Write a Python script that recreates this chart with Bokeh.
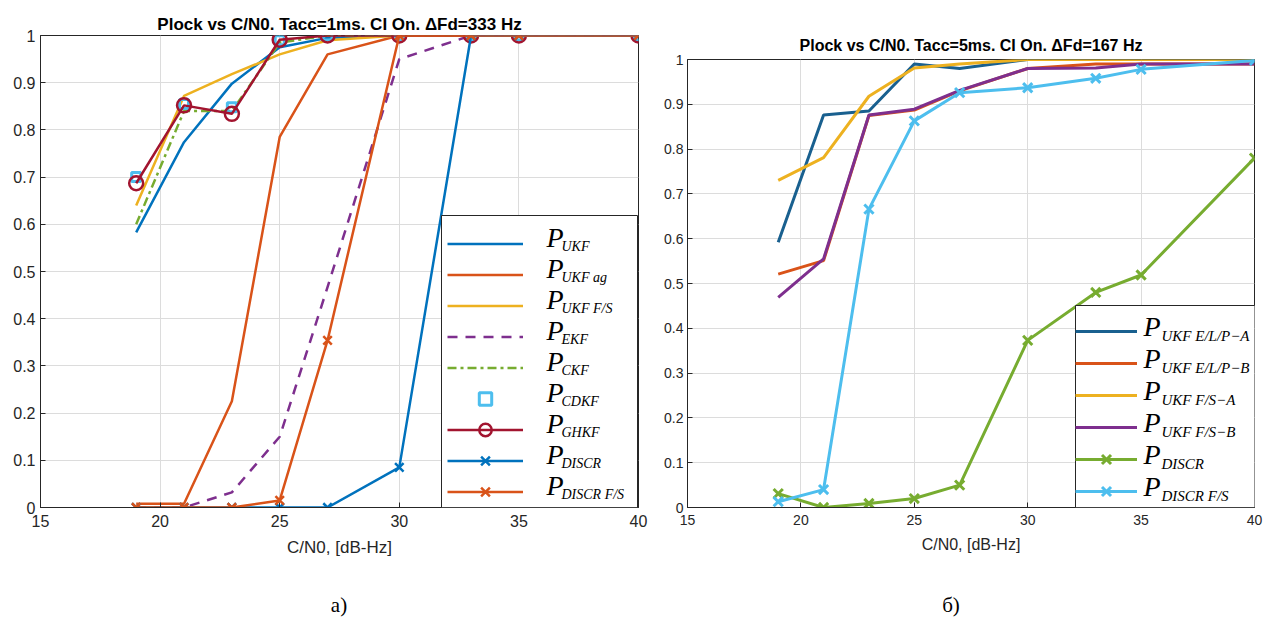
from bokeh.plotting import figure
from bokeh.layouts import row, column
from bokeh.models import Legend, LegendItem, Label, FixedTicker, Range1d, BoxAnnotation, Div
from bokeh.core.properties import value
from bokeh.embed import file_html
from bokeh.resources import INLINE

# ---------------- data ----------------
cn0 = [19, 21, 23, 25, 27, 30, 33, 35, 40]

# panel a) Tacc = 1 ms
a_ukf = [0.583, 0.774, 0.898, 0.975, 0.995, 1.0, 1.0, 1.0, 1.0]
a_ukf_ag = [0.008, 0.008, 0.225, 0.785, 0.960, 1.0, 1.0, 1.0, 1.0]
a_ukf_fs = [0.640, 0.872, 0.918, 0.960, 0.990, 1.0, 1.0, 1.0, 1.0]
a_ekf = [0.0, 0.0, 0.032, 0.150, 0.467, 0.950, 1.0, 1.0, 1.0]
a_ckf = [0.600, 0.840, 0.840, 0.985, 1.0, 1.0, 1.0, 1.0, 1.0]
a_cdkf = [0.700, 0.855, 0.848, 0.990, 1.0, 1.0, 1.0, 1.0, 1.0]
a_ghkf = [0.687, 0.852, 0.834, 0.991, 1.0, 1.0, 1.0, 1.0, 1.0]
a_discr = [0.0, 0.0, 0.0, 0.0, 0.0, 0.085, 1.0, 1.0, 1.0]
a_discr_fs = [0.0, 0.0, 0.0, 0.015, 0.354, 1.0, 1.0, 1.0, 1.0]

# panel б) Tacc = 5 ms
b_elp_a = [0.592, 0.876, 0.885, 0.990, 0.980, 1.0, 1.0, 1.0, 1.0]
b_elp_b = [0.521, 0.551, 0.875, 0.887, 0.930, 0.980, 0.990, 0.990, 0.990]
b_fs_a = [0.730, 0.781, 0.918, 0.981, 0.990, 1.0, 1.0, 1.0, 1.0]
b_fs_b = [0.469, 0.555, 0.876, 0.889, 0.931, 0.980, 0.981, 0.990, 0.990]
b_discr = [0.031, 0.0, 0.009, 0.020, 0.050, 0.373, 0.480, 0.519, 0.780]
b_discr_fs = [0.013, 0.040, 0.666, 0.863, 0.926, 0.937, 0.958, 0.978, 0.998]

x_ticks = [15, 20, 25, 30, 35, 40]
y_ticks = [0, 0.1, 0.2, 0.3, 0.4, 0.5, 0.6, 0.7, 0.8, 0.9, 1]
y_tick_labels = ["0", "0.1", "0.2", "0.3", "0.4", "0.5", "0.6", "0.7", "0.8", "0.9", "1"]

title_a = "Plock vs C/N0. Tacc=1ms. CI On. \u0394Fd=333 Hz"
title_b = "Plock vs C/N0. Tacc=5ms. CI On. \u0394Fd=167 Hz"
x_label = "C/N0, [dB-Hz]"
caption_a = "\u0430)"
caption_b = "\u0431)"
legend_main = "P"
legend_a_subs = ["UKF", "UKF ag", "UKF F/S", "EKF", "CKF", "CDKF", "GHKF", "DISCR", "DISCR F/S"]
legend_b_subs = ["UKF  E/L/P\u2212A", "UKF  E/L/P\u2212B", "UKF  F/S\u2212A", "UKF  F/S\u2212B",
                 "DISCR", "DISCR F/S"]

BLUE = "#0072BD"
DBLUE = "#19608f"
ORANGE = "#D95319"
YELLOW = "#EDB120"
PURPLE = "#7E2F8E"
GREEN = "#77AC30"
LBLUE = "#4DBEEE"
DRED = "#A2142F"
AXC = "#262626"

X0, X1 = 15, 40
Y0, Y1 = 0, 1
PLOT_H = 585
CAP_H = 621 - PLOT_H


def make_fig(width, ml, mr, mt, title, tick_fs, lab_fs, title_fs, xstand, ystand, tstand):
    p = figure(width=width, height=PLOT_H, x_range=Range1d(X0, X1), y_range=Range1d(Y0, Y1),
               output_backend="svg", toolbar_location=None,
               min_border_left=ml, min_border_right=mr, min_border_top=mt,
               min_border_bottom=PLOT_H - 507, title=title)
    if "frame_align" in p.properties():
        p.frame_align = False
    p.title.align = "center"
    p.title.text_font = "Liberation Sans"
    p.title.text_font_style = "bold"
    p.title.text_font_size = title_fs
    p.title.text_color = "black"
    p.title.standoff = tstand
    p.outline_line_color = AXC
    p.outline_line_width = 1
    p.outline_line_alpha = 1
    p.background_fill_color = "white"
    p.border_fill_color = "white"
    p.xaxis.ticker = FixedTicker(ticks=x_ticks)
    p.yaxis.ticker = FixedTicker(ticks=y_ticks)
    p.yaxis.major_label_overrides = {t: l for t, l in zip(y_ticks, y_tick_labels)}
    for ax in (p.xaxis, p.yaxis):
        ax.major_tick_in = 5
        ax.major_tick_out = 0
        ax.minor_tick_line_color = None
        ax.axis_line_color = AXC
        ax.major_tick_line_color = AXC
        ax.major_label_text_font = "Liberation Sans"
        ax.major_label_text_font_size = tick_fs
        ax.major_label_text_color = AXC
    p.xaxis.major_label_standoff = xstand
    p.yaxis.major_label_standoff = ystand
    p.xaxis.axis_label = x_label
    p.xaxis.axis_label_text_font = "Liberation Sans"
    p.xaxis.axis_label_text_font_style = "normal"
    p.xaxis.axis_label_text_font_size = lab_fs
    p.xaxis.axis_label_text_color = AXC
    p.xaxis.axis_label_standoff = 8
    p.xgrid.grid_line_color = "#dcdcdc"
    p.ygrid.grid_line_color = "#dcdcdc"
    p.xgrid.grid_line_width = 1
    p.ygrid.grid_line_width = 1
    return p


class PixMap:
    """Converts pixel offsets inside a frame of known size to data units (for text placement)."""
    def __init__(self, fw, fh):
        self.fw, self.fh = fw, fh

    def x(self, dx):
        return X0 + dx / self.fw * (X1 - X0)

    def y(self, dy_from_bottom):
        return Y0 + dy_from_bottom / self.fh * (Y1 - Y0)


def add_text(p, x, y, text, size, font="Liberation Serif", style="italic", align="left",
             baseline="middle"):
    p.add_layout(Label(x=x, y=y, text=text, text_font=font, text_font_style=style,
                       text_font_size=size, text_baseline=baseline, text_align=align,
                       text_color="black"))


def legend_box(p, m, left, width, height):
    p.add_layout(BoxAnnotation(left=m.x(left), right=m.x(left + width), bottom=Y0,
                               top=m.y(height), fill_color="white", fill_alpha=1,
                               line_color=AXC, line_width=1, line_alpha=1))


def caption(text, width, center_x):
    # text is centred on center_x (px from the left edge of this column)
    html = ('<div style="position: relative; width: %dpx; height: %dpx;">'
            '<span style="position: absolute; left: %dpx; top: 8px; transform: translateX(-50%%); '
            'font-family: \'Liberation Serif\'; font-size: 21px; line-height: 24px; '
            'color: black; white-space: nowrap;">%s</span></div>'
            % (width, CAP_H, center_x, text))
    return Div(text=html, width=width, height=CAP_H, margin=(0, 0, 0, 0))


# ---------------- panel a ----------------
pa = make_fig(660, 40, 22, 35, title_a, "16px", "17px", "17px", 7, 5, 4)
ma = PixMap(598, 472)
lw = 2.5
r1 = pa.line(cn0, a_ukf, line_color=BLUE, line_width=lw)
r2 = pa.line(cn0, a_ukf_ag, line_color=ORANGE, line_width=lw)
r3 = pa.line(cn0, a_ukf_fs, line_color=YELLOW, line_width=lw)
r4 = pa.line(cn0, a_ekf, line_color=PURPLE, line_width=lw, line_dash="10 8")
r5 = pa.line(cn0, a_ckf, line_color=GREEN, line_width=lw, line_dash="9 4 3 4")
r6 = pa.scatter(cn0, a_cdkf, marker="square", size=9, line_color=LBLUE, line_width=3,
                fill_color=None)
r7l = pa.line(cn0, a_ghkf, line_color=DRED, line_width=lw)
r7m = pa.scatter(cn0, a_ghkf, marker="circle", size=14, line_color=DRED, line_width=2.5,
                 fill_color=None)
r8l = pa.line(cn0, a_discr, line_color=BLUE, line_width=lw)
r8m = pa.scatter(cn0, a_discr, marker="x", size=12, line_color=BLUE, line_width=2.5)
r9l = pa.line(cn0, a_discr_fs, line_color=ORANGE, line_width=lw)
r9m = pa.scatter(cn0, a_discr_fs, marker="x", size=12, line_color=ORANGE, line_width=2.5)

legend_box(pa, ma, 401, 196, 292)
for i, sub in enumerate(legend_a_subs):
    cy = 269.5 - 31 * i          # row centre, px above frame bottom
    add_text(pa, ma.x(506), ma.y(cy + 1), legend_main, "28px")
    add_text(pa, ma.x(521), ma.y(cy - 8), sub, "14px")

a_rends = [[r1], [r2], [r3], [r4], [r5], [r6], [r7l, r7m], [r8l, r8m], [r9l, r9m]]
leg_a = Legend(items=[LegendItem(label=value(""), renderers=rs) for rs in a_rends],
               location=(407, 0), glyph_width=76, glyph_height=31, label_height=31,
               label_width=102, label_standoff=0, padding=6, spacing=0, margin=0,
               border_line_color=None, background_fill_alpha=0,
               label_text_font_size="8px")
pa.add_layout(leg_a)

# ---------------- panel b ----------------
pb = make_fig(613, 27, 19, 59, title_b, "14px", "16px", "16px", 7, 4, 12)
mb = PixMap(567, 448)
lw2 = 3
s1 = pb.line(cn0, b_elp_a, line_color=DBLUE, line_width=lw2)
s2 = pb.line(cn0, b_elp_b, line_color=ORANGE, line_width=lw2)
s3 = pb.line(cn0, b_fs_a, line_color=YELLOW, line_width=lw2)
s4 = pb.line(cn0, b_fs_b, line_color=PURPLE, line_width=lw2)
s5l = pb.line(cn0, b_discr, line_color=GREEN, line_width=lw2)
s5m = pb.scatter(cn0, b_discr, marker="x", size=13, line_color=GREEN, line_width=3)
s6l = pb.line(cn0, b_discr_fs, line_color=LBLUE, line_width=lw2)
s6m = pb.scatter(cn0, b_discr_fs, marker="x", size=13, line_color=LBLUE, line_width=3)

legend_box(pb, mb, 388, 200, 202)
for i, sub in enumerate(legend_b_subs):
    cy = 180 - 32 * i
    add_text(pb, mb.x(456), mb.y(cy + 1), legend_main, "28px")
    add_text(pb, mb.x(474), mb.y(cy - 8), sub, "15px")

b_rends = [[s1], [s2], [s3], [s4], [s5l, s5m], [s6l, s6m]]
leg_b = Legend(items=[LegendItem(label=value(""), renderers=rs) for rs in b_rends],
               location=(388, 0), glyph_width=62, glyph_height=32, label_height=32,
               label_width=123, label_standoff=0, padding=5, spacing=0, margin=0,
               border_line_color=None, background_fill_alpha=0,
               label_text_font_size="8px")
pb.add_layout(leg_b)

layout = row(column(pa, caption(caption_a, 660, 339)),
             column(pb, caption(caption_b, 613, 291)))
open("out.html", "w").write(file_html(layout, INLINE))
